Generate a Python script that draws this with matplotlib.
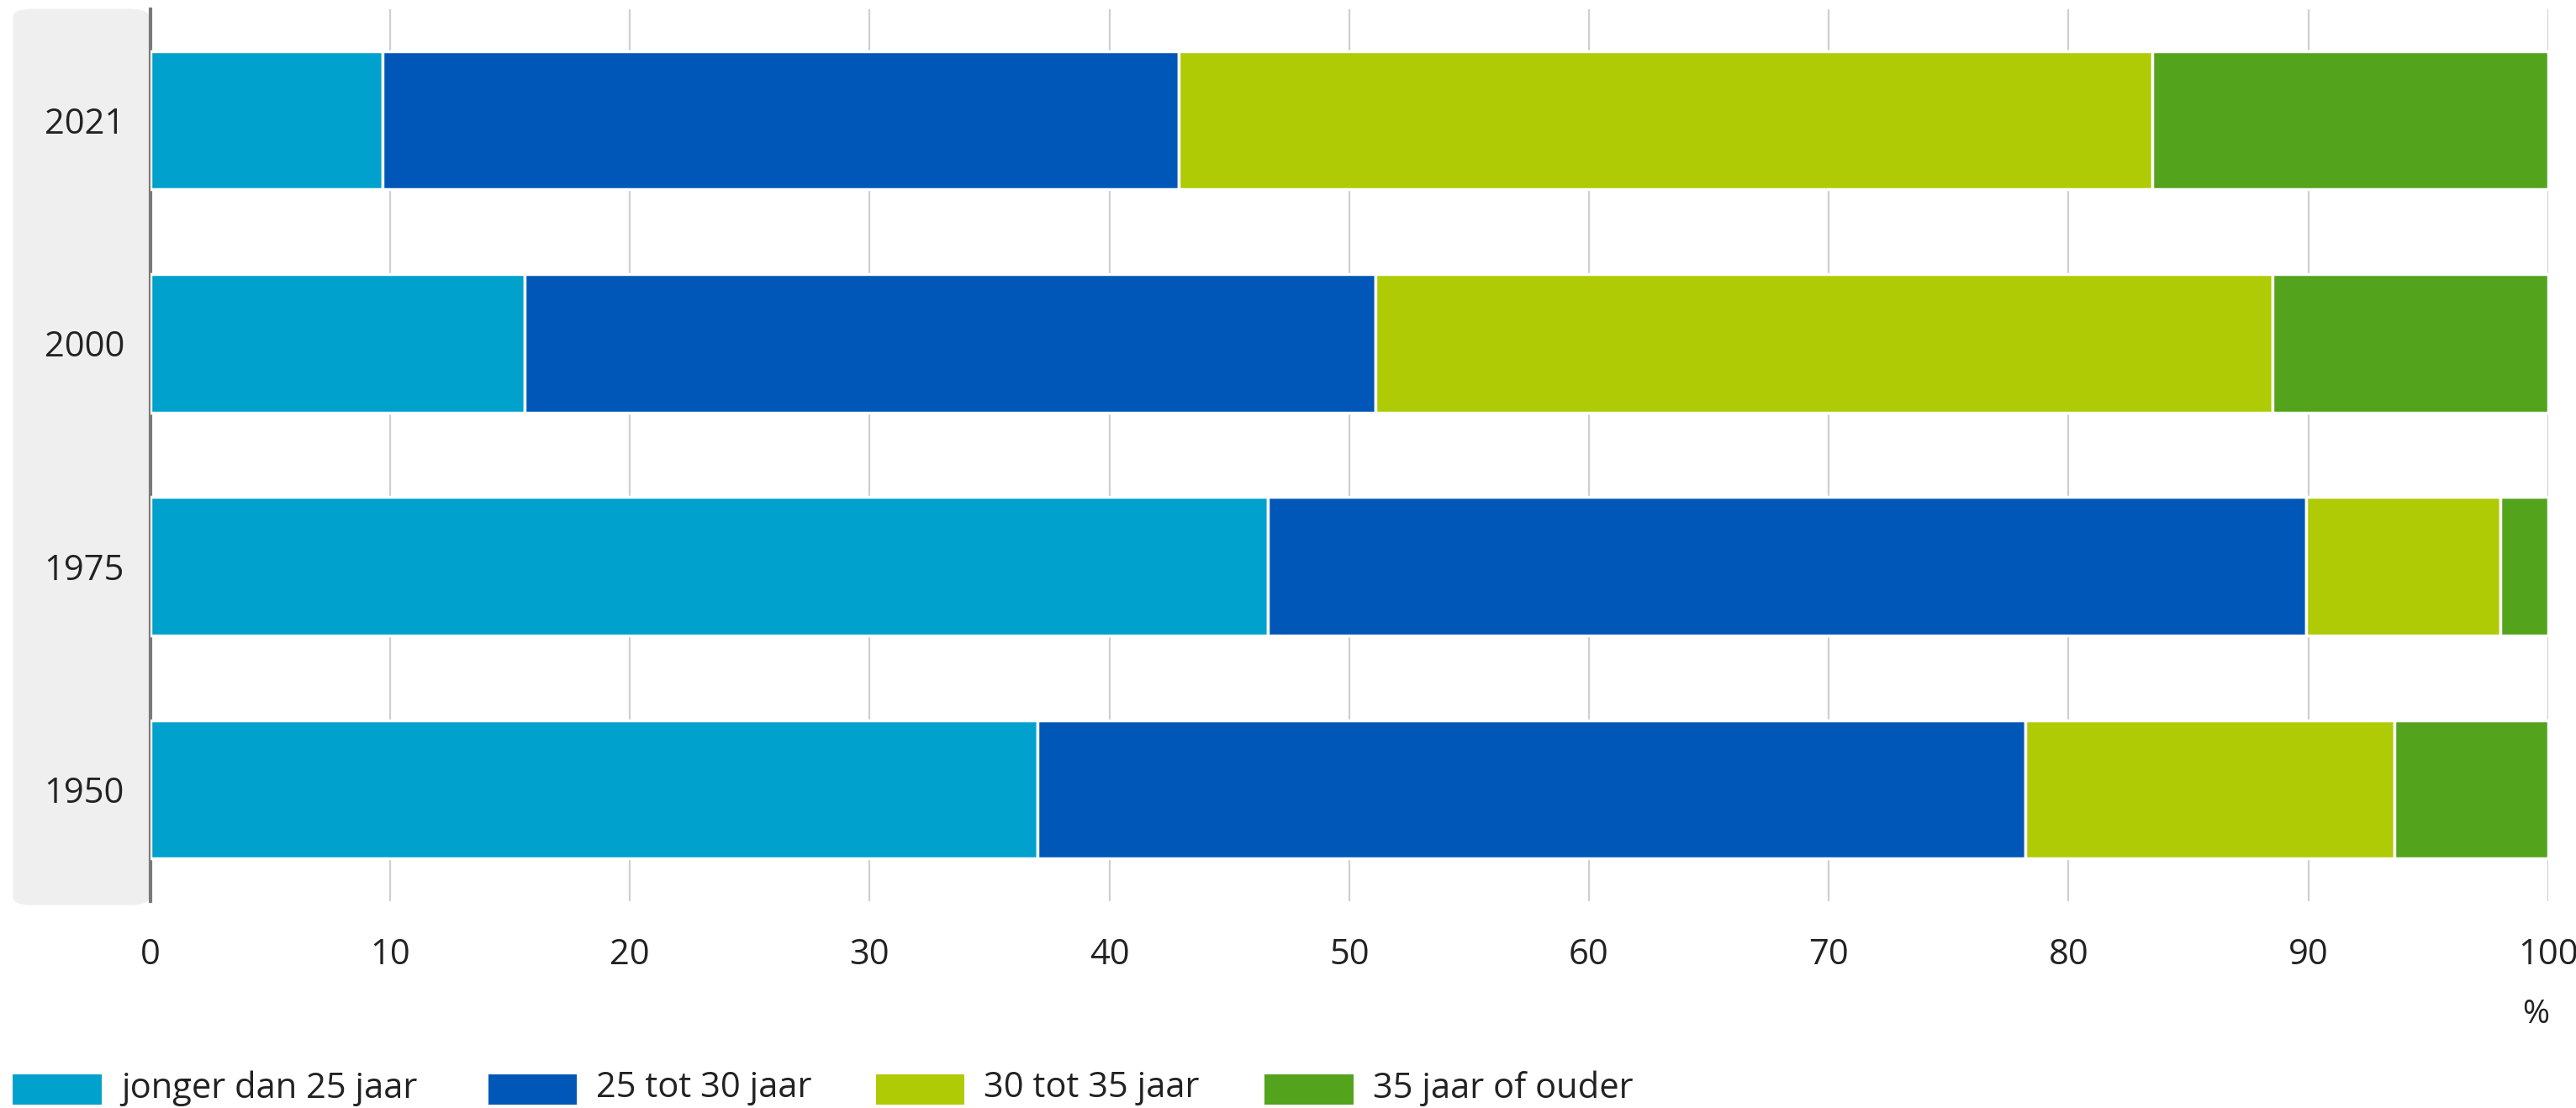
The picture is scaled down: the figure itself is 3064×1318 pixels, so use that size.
import numpy as np
import matplotlib
matplotlib.use('Agg')
import matplotlib.pyplot as plt
from matplotlib.patches import FancyBboxPatch, Rectangle

# aandeel moeders bij geboorte eerste kind, naar leeftijd (%)
jaren = ['1950', '1975', '2000', '2021']
jonger_25 = [37.0, 46.6, 15.6, 9.7]
tot_30 = [41.2, 43.3, 35.5, 33.2]
tot_35 = [15.4, 8.1, 37.4, 40.6]
ouder_35 = [6.4, 2.0, 11.5, 16.5]

reeksen = ['jonger dan 25 jaar', '25 tot 30 jaar', '30 tot 35 jaar', '35 jaar of ouder']
kleuren = ['#00A1CD', '#0057B7', '#AFCB05', '#53A31D']
xticks = list(range(0, 101, 10))

plt.rcParams['font.family'] = ['Open Sans', 'DejaVu Sans']
tekst_kleur = '#222222'

fig = plt.figure(figsize=(30.64, 13.18), dpi=100)
ax = fig.add_axes([0.0583, 0.187, 0.9309, 0.805])

# grijs paneel achter de jaartallen
paneel = FancyBboxPatch((0.005, 0.183), 0.053, 0.809, boxstyle='round,pad=0,rounding_size=0.008',
                        transform=fig.transFigure, facecolor='#EFEFEF', edgecolor='none', zorder=-1)
fig.patches.append(paneel)

y = np.arange(len(jaren))
links = np.zeros(len(jaren))
for waarden, kleur, naam in zip([jonger_25, tot_30, tot_35, ouder_35], kleuren, reeksen):
    ax.barh(y, waarden, left=links, height=0.62, color=kleur, edgecolor='white',
            linewidth=2.5, label=naam, zorder=3)
    links += np.array(waarden)

ax.set_xlim(0, 100)
ax.set_ylim(-0.5, 3.5)
ax.set_yticks(y)
ax.set_yticklabels(jaren)
ax.set_xticks(xticks)
ax.set_xticklabels([str(t) for t in xticks])
ax.tick_params(axis='both', length=0, labelsize=30, colors=tekst_kleur)
ax.tick_params(axis='x', pad=31)
ax.tick_params(axis='y', pad=22)
ax.set_facecolor('none')

ax.grid(axis='x', color='#CFCFCF', linewidth=1.6, zorder=0)
ax.grid(axis='y', visible=False)
for kant in ['top', 'right', 'bottom']:
    ax.spines[kant].set_visible(False)
ax.spines['left'].set_color('#7A7A7A')
ax.spines['left'].set_linewidth(3)
ax.spines['left'].set_zorder(2)

fig.text(0.9895, 0.084, '%', ha='right', va='center', fontsize=28, color=tekst_kleur)

# legenda onderaan
leg_x = [0.005, 0.1895, 0.340, 0.491]
for lx, kleur, naam in zip(leg_x, kleuren, reeksen):
    fig.patches.append(Rectangle((lx, 0.003), 0.0345, 0.027, transform=fig.transFigure,
                                 facecolor=kleur, edgecolor='none'))
    fig.text(lx + 0.042, 0.018, naam, ha='left', va='center', fontsize=30, color=tekst_kleur)

fig.savefig('out.png', dpi=100)
